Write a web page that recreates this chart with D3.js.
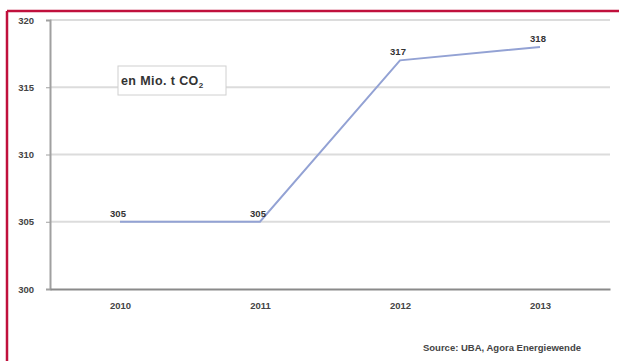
<!DOCTYPE html>
<html><head><meta charset="utf-8">
<script src="https://cdn.jsdelivr.net/npm/d3@7"></script>
<style>html,body{margin:0;padding:0;background:#fff;}svg{display:block;}</style>
</head><body>
<svg id="c" width="619" height="361"></svg>
<script>
const years = ["2010","2011","2012","2013"];
const values = [305, 305, 317, 318];
const yTicks = [300, 305, 310, 315, 320];
const unitLabel = "en Mio. t CO";
const sourceLabel = "Source: UBA, Agora Energiewende";

const svg = d3.select("#c");
const W = 619, H = 361;
const m = {left: 50, right: 9, top: 20, bottom: 72};
const FONT = "Liberation Sans, Arial, sans-serif";
const x = d3.scalePoint().domain(years).range([m.left, W - m.right]).padding(0.5);
const y = d3.scaleLinear().domain([300, 320]).range([H - m.bottom, m.top]);

// red frame
svg.append("line").attr("x1", 7).attr("x2", W).attr("y1", 11).attr("y2", 11).attr("stroke", "#c0103c").attr("stroke-width", 2.5);
svg.append("line").attr("x1", 7).attr("x2", 7).attr("y1", 11).attr("y2", H).attr("stroke", "#c0103c").attr("stroke-width", 2.5);

// gridlines
svg.append("g").selectAll("line").data(yTicks.filter(d => d > 300)).join("line")
  .attr("x1", m.left).attr("x2", W - m.right)
  .attr("y1", d => y(d)).attr("y2", d => y(d))
  .attr("stroke", "#dcdcdc").attr("stroke-width", 2);

// y axis
const ya = svg.append("g").attr("transform", `translate(${m.left},0)`)
  .call(d3.axisLeft(y).tickValues(yTicks).tickSize(4).tickPadding(12));
ya.select(".domain").attr("stroke", "#a0a0a0").attr("stroke-width", 2);
ya.selectAll(".tick line").attr("stroke", "#a0a0a0");
ya.selectAll("text").attr("font-family", FONT).attr("font-size", 9.5).attr("font-weight", "bold").attr("fill", "#444");

// x axis
const xa = svg.append("g").attr("transform", `translate(0,${y(300)})`)
  .call(d3.axisBottom(x).tickSize(0).tickPadding(13));
xa.select(".domain").attr("stroke", "#8a8a8a").attr("stroke-width", 2);
xa.selectAll("text").attr("font-family", FONT).attr("font-size", 9.5).attr("font-weight", "bold").attr("fill", "#444");

// line
const data = years.map((yr, i) => ({yr, v: values[i]}));
svg.append("path").datum(data)
  .attr("fill", "none").attr("stroke", "#93a2d4").attr("stroke-width", 2)
  .attr("d", d3.line().x(d => x(d.yr)).y(d => y(d.v)));

// value labels
svg.append("g").selectAll("text").data(data).join("text")
  .attr("x", d => x(d.yr) - 2).attr("y", d => y(d.v) - 5)
  .attr("text-anchor", "middle")
  .attr("font-family", FONT).attr("font-size", 9.5).attr("font-weight", "bold").attr("fill", "#333")
  .text(d => d.v);

// unit box
const bx = 118, by = 66;
svg.append("rect").attr("x", bx).attr("y", by).attr("width", 108).attr("height", 29)
  .attr("fill", "#fff").attr("stroke", "#d0d0d0").attr("stroke-width", 1);
const t = svg.append("text").attr("x", bx + 3).attr("y", by + 19)
  .attr("font-family", FONT).attr("font-size", 12.5).attr("font-weight", "bold").attr("fill", "#333")
  .attr("letter-spacing", 0.4)
  .text(unitLabel);
t.append("tspan").attr("font-size", 8).attr("dy", 3).text("2");

// source
svg.append("text").attr("x", 581).attr("y", 351).attr("text-anchor", "end")
  .attr("font-family", FONT).attr("font-size", 9.5).attr("font-weight", "bold").attr("fill", "#444")
  .text(sourceLabel);
</script>
</body></html>
